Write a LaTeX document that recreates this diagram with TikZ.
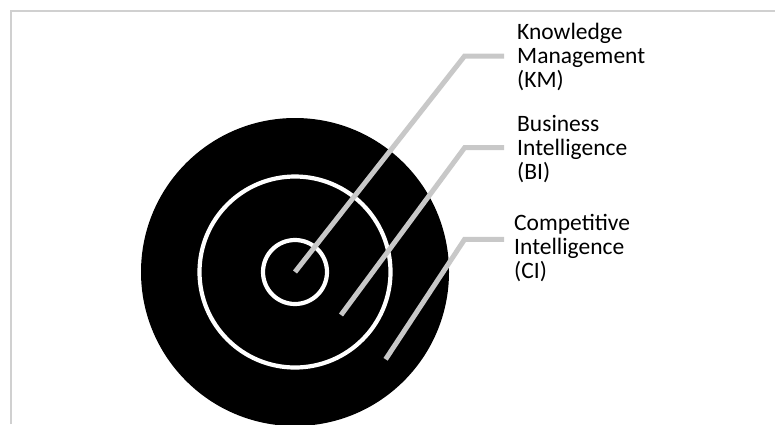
\documentclass[tikz,border=0pt]{standalone}
\usepackage{fontspec}
\setmainfont{Carlito}
\begin{document}
\begin{tikzpicture}[x=1pt,y=-1pt,
  frameline/.style={draw=framegray,line width=2pt},
  disc/.style={circle,fill=black,inner sep=0pt,minimum size=#1},
  ring/.style={circle,draw=white,line width=4.2pt,inner sep=0pt,minimum size=#1},
  leader/.style={draw=leadgray,line width=5pt},
  lbl/.style={anchor=base west,inner sep=0pt,align=left,
    font=\fontsize{23.5}{24}\selectfont}]
\definecolor{framegray}{RGB}{208,208,208}
\definecolor{leadgray}{RGB}{200,200,200}
\useasboundingbox (0,0) rectangle (775,424);
% outer frame (top and left edges)
\draw[frameline] (10.8,424) -- (10.8,10.8) -- (775,10.8);
% target discs
\node[disc=308pt] (ci) at (295,272) {};
\node[ring=191pt] (bi) at (ci.center) {};
\node[ring=64pt] (km) at (ci.center) {};
% leader line end points
\coordinate (kmstart) at (km.center);
\coordinate (bistart) at (341,315);
\coordinate (cistart) at (385.6,359.3);
\coordinate (kmknee) at (464.6,56);
\coordinate (biknee) at (464.6,147.7);
\coordinate (ciknee) at (464.6,239.3);
\coordinate (kmend) at (504,56);
\coordinate (biend) at (504,147.7);
\coordinate (ciend) at (504,239.3);
% labels (anchored at the baseline of the last line)
\node[lbl] (kmlbl) at (517,87.3) {Knowledge\\Management\\(KM)};
\node[lbl] (bilbl) at (517,179.3) {Business\\Intelligence\\(BI)};
\node[lbl] (cilbl) at (514,278) {Competitive\\Intelligence\\(CI)};
% leaders
\draw[leader] (kmstart) -- (kmknee) -- (kmend);
\draw[leader] (bistart) -- (biknee) -- (biend);
\draw[leader] (cistart) -- (ciknee) -- (ciend);
\end{tikzpicture}
\end{document}
